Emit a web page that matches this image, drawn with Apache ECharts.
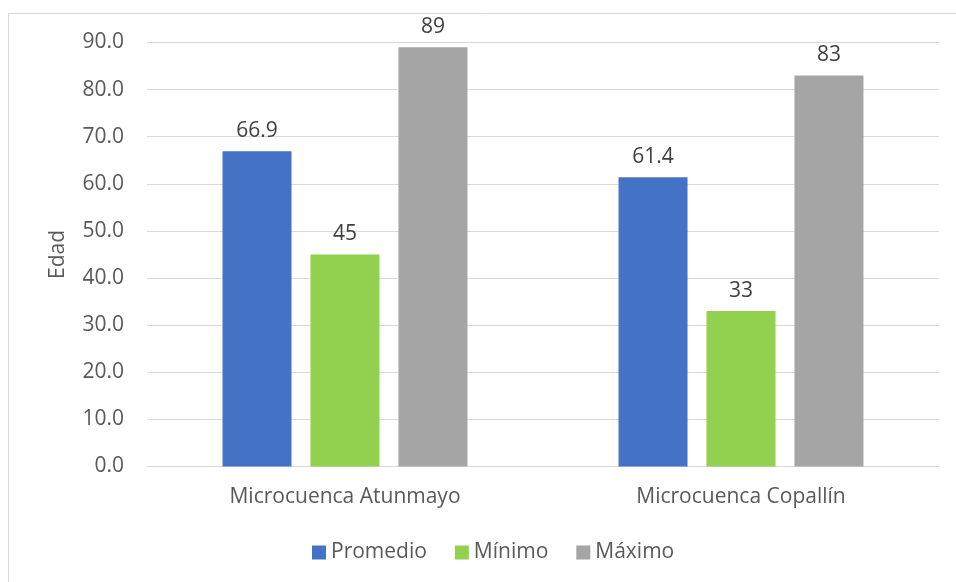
<!DOCTYPE html>
<html>
<head>
<meta charset="utf-8">
<script src="https://cdn.jsdelivr.net/npm/echarts@6/dist/echarts.min.js"></script>
<style>
html,body{margin:0;padding:0;background:#fff;}
#chart{width:956px;height:582px;}
</style>
</head>
<body>
<div id="chart"></div>
<script>
const categories = ["Microcuenca Atunmayo", "Microcuenca Copallín"];
const seriesNames = ["Promedio", "Mínimo", "Máximo"];
const promedio = [66.9, 61.4];
const minimo = [45, 33];
const maximo = [89, 83];
const yAxisName = "Edad";
const colors = ["#4472C4", "#92D050", "#A5A5A5"];

const FONT = "Open Sans";
const chart = echarts.init(document.getElementById('chart'));
const dataSets = [promedio, minimo, maximo];
const labelFmt = [
  p => p.value.toFixed(1),
  p => String(p.value),
  p => String(p.value)
];
chart.setOption({
  animation: false,
  color: colors,
  graphic: [{
    type: 'rect',
    shape: {x: 8.5, y: 13.5, width: 1200, height: 1200},
    style: {fill: 'none', stroke: '#d9d9d9', lineWidth: 1},
    silent: true
  }],
  grid: {left: 147, right: 17, top: 42.5, bottom: 115.5, containLabel: false},
  legend: {
    top: 537,
    left: 307,
    icon: 'rect',
    itemWidth: 14,
    itemHeight: 14,
    itemGap: 28,
    textStyle: {fontFamily: FONT, fontSize: 21, color: '#595959'},
    data: seriesNames
  },
  xAxis: {
    type: 'category',
    data: categories,
    axisLine: {lineStyle: {color: '#d9d9d9', width: 1}},
    axisTick: {show: false},
    axisLabel: {fontFamily: FONT, fontSize: 21, color: '#595959', margin: 20}
  },
  yAxis: {
    type: 'value',
    min: 0, max: 90, interval: 10,
    name: yAxisName,
    nameLocation: 'middle',
    nameGap: 78,
    nameTextStyle: {fontFamily: FONT, fontSize: 21, color: '#595959'},
    axisLine: {show: false},
    axisTick: {show: false},
    splitLine: {lineStyle: {color: '#d9d9d9', width: 1}},
    axisLabel: {fontFamily: FONT, fontSize: 21, color: '#595959', margin: 23,
      formatter: v => v.toFixed(1)}
  },
  series: seriesNames.map((n, i) => ({
    name: n,
    type: 'bar',
    data: dataSets[i],
    barWidth: 69,
    barGap: '27.5%',
    label: {show: true, position: 'top', distance: 10, fontFamily: FONT, fontSize: 21, color: '#404040',
      formatter: labelFmt[i]}
  }))
});
</script>
</body>
</html>
